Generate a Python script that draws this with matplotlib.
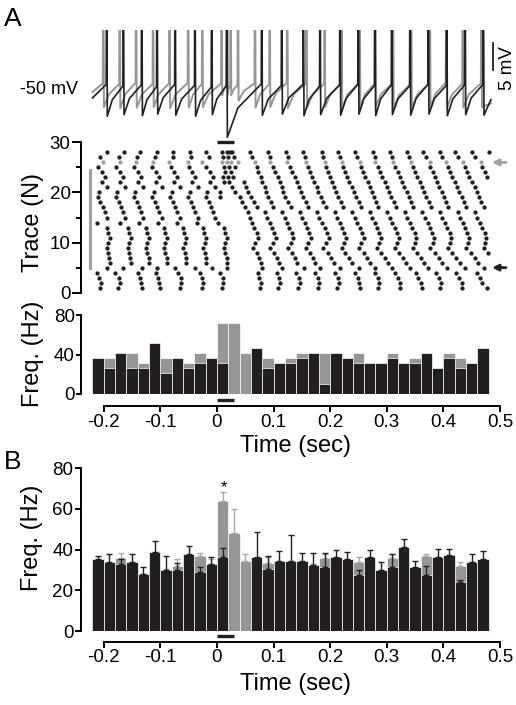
import matplotlib
matplotlib.use('Agg')
import matplotlib.pyplot as plt
import numpy as np

plt.rcParams['font.family'] = ['Liberation Sans', 'DejaVu Sans']

# ---------------- data ----------------
# Voltage traces (spike times in ms, key voltages in mV)
black_spk = [-195, -165.5, -133, -106, -74, -39, -9.4, 17.1, 79, 114.3, 152.5, 182, 217.3,
             249.6, 279.2, 308.7, 341, 373.3, 405.8, 438.2, 470.5]
black_thr = [-49.0, -49.3, -49.1, -49.4, -49.0, -49.2, -49.5, -49.3, -48.9, -49.2, -49.0,
             -49.3, -49.1, -49.0, -49.2, -49.1, -49.3, -49.0, -49.2, -49.1, -49.0]
black_trough = [-54.9, -54.6, -54.8, -54.5, -54.7, -54.9, -54.6, -58.8, -54.7, -54.5, -54.8,
                -54.6, -54.7, -54.5, -54.8, -54.6, -54.7, -54.5, -54.8, -54.6, -54.7]
black_start, black_end = -51.5, -51.8

grey_spk = [-201, -172, -143, -113, -84, -51, -26, 8, 18, 24, 37, 67, 93, 124, 158, 190, 220,
            252, 279, 311, 343, 376, 405, 434, 467]
grey_thr = [-48.8, -48.9, -48.7, -48.9, -48.8, -48.7, -48.9, -48.8, -48.9, -49.0, -49.1, -48.8,
            -48.9, -48.7, -48.8, -48.9, -48.8, -48.7, -48.9, -48.8, -48.9, -48.8, -48.7, -48.9, -48.8]
grey_trough = [-53.2, -53.4, -53.3, -53.2, -53.4, -53.3, -53.2, -51.0, -50.8, -51.0, -52.0, -53.3,
               -53.2, -53.4, -53.3, -53.2, -53.4, -53.3, -53.2, -53.4, -53.3, -53.2, -53.4, -53.3, -53.2]
grey_start, grey_end = -50.4, -52.5

# Raster: spike times (ms) for traces 1..28 (trace 26 is grey)
row_01 = [-207, -175, -133, -101, -65, -27, 9, 76, 108, 143, 178, 212, 253, 285, 323, 362, 394, 433, 477]
row_02 = [-205, -172, -135, -102, -63, -25, 11, 77, 111, 146, 180, 216, 250, 287, 323, 360, 395, 432, 468]
row_03 = [-208, -174, -136, -104, -64, -26, 10, 75, 110, 144, 179, 214, 249, 284, 320, 356, 392, 428, 465]
row_04 = [-212, -180, -140, -107, -69, -30, 6, 73, 106, 140, 174, 209, 244, 280, 315, 351, 387, 423, 460]
row_05 = [-195, -166, -133, -106, -74, -39, -9, 17, 79, 114, 153, 182, 217, 250, 279, 309, 341, 373, 406, 438, 471]
row_06 = [-189, -152, -120, -88, -54, -19, 18, 77, 110, 142, 174, 206, 238, 270, 302, 334, 366, 398, 430, 462]
row_07 = [-190, -153, -121, -89, -55, -20, 17, 74, 106, 138, 169, 201, 233, 265, 296, 328, 360, 392, 423, 455]
row_08 = [-192, -155, -123, -91, -57, -22, 15, 70, 101, 133, 164, 196, 227, 259, 290, 322, 353, 385, 416, 448, 479]
row_09 = [-195, -158, -126, -94, -60, -25, 12, 63, 94, 126, 157, 188, 220, 251, 283, 314, 346, 377, 409, 440, 472]
row_10 = [-192, -155, -123, -91, -57, -22, 15, 68, 99, 130, 161, 193, 224, 255, 287, 318, 349, 381, 412, 443, 474]
row_11 = [-189, -152, -120, -88, -54, -19, 18, 73, 104, 135, 166, 197, 228, 259, 290, 321, 352, 383, 414, 445, 476]
row_12 = [-193, -156, -124, -92, -58, -23, 14, 70, 101, 132, 163, 194, 225, 256, 287, 318, 349, 380, 411, 442, 473]
row_13 = [-195, -158, -126, -94, -60, -25, 12, 66, 97, 128, 159, 190, 221, 252, 283, 314, 345, 376, 407, 438, 469]
row_14 = [-212, -172, -138, -104, -70, -35, 2, 62, 93, 124, 155, 186, 217, 248, 279, 310, 341, 372, 403, 434, 465]
row_15 = [-194, -162, -130, -98, -66, -34, -3, 58, 89, 120, 150, 181, 212, 243, 274, 305, 336, 367, 398, 429, 460]
row_16 = [-198, -166, -134, -102, -70, -38, -7, 55, 85, 115, 146, 177, 208, 239, 270, 301, 332, 363, 394, 425, 456]
row_17 = [-202, -170, -138, -106, -74, -42, -11, 50, 70, 99, 130, 161, 192, 223, 254, 285, 316, 347, 378, 409, 440, 471]
row_18 = [-206, -174, -142, -110, -78, -46, -15, 45, 65, 95, 126, 157, 188, 219, 250, 281, 312, 343, 374, 405, 436, 467]
row_19 = [-211, -179, -147, -115, -83, -51, -20, 5, 40, 60, 90, 121, 152, 183, 214, 246, 277, 308, 339, 370, 401, 432, 463]
row_20 = [-208, -176, -144, -112, -80, -48, -17, 5, 32, 54, 86, 117, 148, 179, 210, 242, 273, 304, 335, 366, 397, 428, 459]
row_21 = [-194, -162, -130, -98, -66, -34, -3, 26, 52, 84, 114, 145, 176, 207, 238, 270, 300, 331, 362, 393, 424, 455]
row_22 = [-204, -172, -140, -108, -76, -44, -13, 12, 22, 48, 80, 111, 141, 172, 203, 234, 266, 296, 327, 358, 389, 420, 451]
row_23 = [-198, -166, -134, -102, -70, -38, -7, 10, 19, 29, 77, 107, 137, 168, 199, 230, 262, 292, 323, 354, 385, 416, 446, 477]
row_24 = [-204, -172, -140, -108, -76, -44, -13, 14, 24, 73, 103, 133, 164, 196, 227, 258, 288, 319, 350, 381, 412, 442, 473]
row_25 = [-210, -178, -146, -114, -82, -50, -19, 12, 22, 32, 70, 99, 129, 161, 193, 223, 254, 284, 315, 346, 377, 408, 438, 468]
row_26 = [-201, -172, -143, -113, -84, -51, -26, 8, 18, 24, 37, 67, 93, 124, 158, 190, 220, 252, 279, 311, 343, 376, 405, 434, 467]
row_27 = [-206, -174, -142, -110, -78, -46, -15, 10, 20, 30, 61, 93, 126, 156, 188, 218, 248, 279, 309, 339, 369, 398, 426, 456]
row_28 = [-194, -164, -136, -106, -78, -48, -19, 8, 18, 23, 27, 58, 90, 122, 152, 185, 214, 244, 276, 306, 336, 364, 394, 420, 450, 480]

# Histogram bins (left edges, s)
bin_left = [-0.22, -0.20, -0.18, -0.16, -0.14, -0.12, -0.10, -0.08, -0.06, -0.04, -0.02, 0.00,
            0.02, 0.04, 0.06, 0.08, 0.10, 0.12, 0.14, 0.16, 0.18, 0.20, 0.22, 0.24, 0.26, 0.28,
            0.30, 0.32, 0.34, 0.36, 0.38, 0.40, 0.42, 0.44, 0.46]
bin_width = 0.02

A_black = [36, 26, 41.5, 26, 26, 51.5, 21, 36, 26, 31, 36, 31, 0, 0, 46.5, 26, 31, 31, 36, 41.5,
           10.5, 41.5, 36, 31, 31, 31, 36, 31, 31, 41.5, 26, 36, 26, 31, 46.5]
A_grey = [36, 36, 41.5, 41.5, 31, 51.5, 36, 36, 31, 41.5, 36, 71.5, 71.5, 41.5, 46.5, 36, 31, 36,
          41.5, 41.5, 41.5, 41.5, 36, 41.5, 31, 31, 41.5, 31, 36, 41.5, 26, 41.5, 36, 31, 46.5]

B_black = [35.2, 34.1, 32.8, 34.1, 28, 38.9, 30, 30, 37.7, 29, 32.8, 36.4, 0, 0, 36.4, 30.3, 34.4,
           34.4, 34.4, 32.5, 31.3, 36.6, 35.2, 27.7, 36.6, 30, 31.3, 41.1, 31.3, 27.5, 36.6, 37.4,
           23.9, 34.1, 35.2]
B_black_err = [1.8, 3.9, 2.4, 3.9, 3.6, 5.4, 7.0, 3.3, 4.1, 2.3, 3.8, 4.6, 0, 0, 12.1, 6.7, 4.9,
               12.8, 3.8, 5.7, 6.9, 3.2, 3.8, 2.3, 3.2, 4.1, 6.4, 4.3, 3.3, 4.6, 3.7, 2.8, 1.2, 3.6, 4.3]
B_grey = [33, 32, 35.7, 32, 27, 37, 29.5, 32, 36, 36.9, 32.5, 63.9, 48, 34.6, 35, 33.3, 33, 33,
          33, 32, 35.7, 35, 34, 34.1, 35, 29, 35.7, 39, 30, 36.9, 35, 36, 32, 33, 34]
B_grey_err = [1, 1, 2.8, 1, 1, 1, 1, 3.4, 1, 1.3, 2.7, 4.3, 12.2, 3.3, 1, 3, 1, 1, 1, 1, 2, 1, 1,
              2.5, 1, 1, 2, 1, 1, 1, 1, 1, 2.1, 1, 1]

stim_on, stim_off = 0.0, 0.03
xticks = [-0.2, -0.1, 0, 0.1, 0.2, 0.3, 0.4, 0.5]
xtick_labels = ['-0.2', '-0.1', '0', '0.1', '0.2', '0.3', '0.4', '0.5']

# ---------------- layout helpers ----------------
W, H = 516, 705
fig = plt.figure(figsize=(W / 100, H / 100), dpi=100)


def rect(x0, y0, x1, y1):
    return [x0 / W, 1 - y1 / H, (x1 - x0) / W, (y1 - y0) / H]


def ftext(x, y, s, **kw):
    fig.text(x / W, 1 - y / H, s, **kw)


XL = ((81 - 217) / 566, (500 - 217) / 566)
BLACK = '#231f20'
GREY = '#969696'
LGREY = '#a8a8a8'


def build_trace(t0, v0, spk, thr, trough, t1, v1):
    ts, vs = [t0], [v0]
    for i, t in enumerate(spk):
        ts += [t - 0.8, t, t + 1.2]
        vs += [thr[i], -20.0, trough[i]]
        if i + 1 < len(spk):
            nxt = spk[i + 1]
            ts.append(t + 1.2 + 0.3 * (nxt - t))
            vs.append(trough[i] + 0.55 * (thr[i + 1] - trough[i]))
    ts.append(t1)
    vs.append(v1)
    return np.array(ts) / 1000.0, np.array(vs)


# ---------------- trace panel ----------------
axT = fig.add_axes(rect(81, 30, 500, 140))
axT.set_xlim(*XL)
axT.set_ylim(-59.3, -38.9)
axT.axis('off')
tg, vg = build_trace(-220, grey_start, grey_spk, grey_thr, grey_trough, 484, grey_end)
axT.plot(tg, vg, color=GREY, lw=1.4, solid_joinstyle='round')
tb, vb = build_trace(-220, black_start, black_spk, black_thr, black_trough, 484, black_end)
axT.plot(tb, vb, color=BLACK, lw=1.2, solid_joinstyle='round')
# scale bar 5 mV
sb_t = (493 - 217) / 566
axT.plot([sb_t, sb_t], [-46.3, -41.3], color=BLACK, lw=1.3, clip_on=False)
ftext(507, 68, '5 mV', rotation=90, ha='center', va='center', fontsize=13.5)
ftext(78, 90, '-50 mV', ha='right', va='center', fontsize=13)
ftext(4, 19, 'A', ha='left', va='center', fontsize=19)

# ---------------- raster panel ----------------
axR = fig.add_axes(rect(81, 142.3, 500, 292.7))
axR.set_xlim(*XL)
axR.set_ylim(0, 30)
rows = [row_01, row_02, row_03, row_04, row_05, row_06, row_07, row_08, row_09, row_10,
        row_11, row_12, row_13, row_14, row_15, row_16, row_17, row_18, row_19, row_20,
        row_21, row_22, row_23, row_24, row_25, row_26, row_27, row_28]
for n, r in enumerate(rows, start=1):
    col = '#a0a0a0' if n == 26 else BLACK
    axR.scatter(np.array(r) / 1000.0, [n] * len(r), s=9.5, c=col, linewidths=0, zorder=3)
for s in ['top', 'right', 'bottom']:
    axR.spines[s].set_visible(False)
axR.spines['left'].set_linewidth(1.4)
axR.set_xticks([])
axR.set_yticks([0, 10, 20, 30])
axR.set_yticks([5, 15, 25], minor=True)
axR.tick_params(axis='y', which='major', length=6.5, width=1.4, labelsize=13.5, pad=1)
axR.tick_params(axis='y', which='minor', length=3.5, width=1.4)
gl_t = (90 - 217) / 566
axR.plot([gl_t, gl_t], [5, 24.5], color='#a0a0a0', lw=2.2, clip_on=False)
axR.plot([stim_on, stim_off], [30.15, 30.15], color=BLACK, lw=2.4, clip_on=False, solid_capstyle='butt')
t_head, t_tail = (492 - 217) / 566, (506 - 217) / 566
axR.annotate('', xy=(t_head, 26), xytext=(t_tail, 26), annotation_clip=False,
             arrowprops=dict(arrowstyle='-|>', color='#a0a0a0', lw=2, mutation_scale=9,
                             shrinkA=0, shrinkB=0, clip_on=False))
axR.annotate('', xy=(t_head, 5), xytext=(t_tail, 5), annotation_clip=False,
             arrowprops=dict(arrowstyle='-|>', color=BLACK, lw=2, mutation_scale=9,
                             shrinkA=0, shrinkB=0, clip_on=False))
ftext(33, 222, 'Trace (N)', rotation=90, ha='center', va='center', fontsize=17)


def style_hist(ax, yt, offset_pt, ylen):
    ax.set_xlim(*XL)
    ax.set_ylim(0, 80)
    ax.spines['top'].set_visible(False)
    ax.spines['right'].set_visible(False)
    ax.spines['left'].set_linewidth(1.4)
    ax.spines['bottom'].set_linewidth(1.4)
    ax.spines['bottom'].set_position(('outward', offset_pt))
    ax.spines['bottom'].set_bounds(-0.2, 0.5)
    ax.spines['left'].set_bounds(0, 80)
    ax.set_xticks(xticks)
    ax.set_xticklabels(xtick_labels)
    ax.set_yticks(yt)
    ax.tick_params(axis='x', length=4.5, width=1.4, labelsize=13.5, pad=1)
    ax.tick_params(axis='y', length=ylen, width=1.4, labelsize=13.5, pad=1)
    ax.set_facecolor('none')


# ---------------- histogram A ----------------
axA = fig.add_axes(rect(81, 315, 500, 394))
axA.bar(bin_left, A_grey, width=bin_width, align='edge', color=GREY, edgecolor='white',
        linewidth=0.5, zorder=1)
axA.bar(bin_left, A_black, width=bin_width, align='edge', color=BLACK, edgecolor='white',
        linewidth=0.5, zorder=2)
style_hist(axA, [0, 40, 80], 8.6, 3.5)
axA.plot([stim_on, stim_off], [-6, -6], color=BLACK, lw=2.4, clip_on=False, solid_capstyle='butt')
ftext(33, 354, 'Freq. (Hz)', rotation=90, ha='center', va='center', fontsize=17)
ftext(296, 446, 'Time (sec)', ha='center', va='center', fontsize=17)

# ---------------- histogram B ----------------
axB = fig.add_axes(rect(81, 468.3, 500, 631))
centers = np.array(bin_left) + bin_width / 2
axB.bar(bin_left, B_grey, width=bin_width, align='edge', color=GREY, edgecolor='white',
        linewidth=0.5, zorder=1)
axB.errorbar(centers, B_grey, yerr=[np.zeros(len(B_grey)), B_grey_err], fmt='none',
             ecolor=LGREY, elinewidth=1.0, capsize=2, capthick=1.0, zorder=1.5)
axB.bar(bin_left, B_black, width=bin_width, align='edge', color=BLACK, edgecolor='white',
        linewidth=0.5, zorder=2)
bb = np.array(B_black)
mask = bb > 0
axB.errorbar(centers[mask], bb[mask], yerr=[np.zeros(mask.sum()), np.array(B_black_err)[mask]],
             fmt='none', ecolor=BLACK, elinewidth=1.0, capsize=2, capthick=1.0, zorder=2.5)
style_hist(axB, [0, 20, 40, 60, 80], 7.7, 4.5)
axB.plot([stim_on, stim_off], [-2.3, -2.3], color=BLACK, lw=2.4, clip_on=False, solid_capstyle='butt')
axB.text(0.012, 70.5, '*', ha='center', va='center', fontsize=12)
ftext(32, 538, 'Freq. (Hz)', rotation=90, ha='center', va='center', fontsize=17)
ftext(296, 684, 'Time (sec)', ha='center', va='center', fontsize=17)
ftext(4, 462, 'B', ha='left', va='center', fontsize=19)

fig.savefig('out.png', dpi=100)
